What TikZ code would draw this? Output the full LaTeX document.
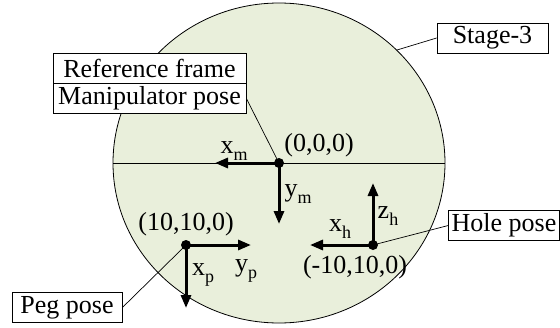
\documentclass[tikz,border=0pt]{standalone}
\usepackage{fontspec}
\setmainfont{Liberation Serif}
\newfontfamily\timesfont{Liberation Serif}
\usetikzlibrary{arrows.meta}
\newcommand\sbs[1]{\raisebox{-0.28em}{\fontsize{18}{18}\selectfont #1}}
\begin{document}
\begin{tikzpicture}[x=1pt,y=-1pt,
  every node/.style={font=\timesfont\fontsize{26}{30}\selectfont, inner sep=2pt},
  labelbox/.style={draw, line width=0.8pt, fill=white, minimum height=30pt, inner sep=3pt},
  axis/.style={line width=3pt, -{Triangle[length=13pt,width=10pt]}},
  callout/.style={line width=0.7pt},
  dotc/.style={fill=black}]
\useasboundingbox (0,0) rectangle (560,327);
\definecolor{stagegreen}{RGB}{233,239,219}
% stage
\draw[line width=0.8pt, fill=stagegreen] (279,163) ellipse [x radius=166pt, y radius=160pt];
\coordinate (L) at (113,163);
\coordinate (R) at (445,163);
\draw[line width=0.8pt] (L) -- (R);
\coordinate (S) at (397,50);
% frame points
\coordinate (M) at (279,163);
\coordinate (P) at (186,245);
\coordinate (H) at (373,245);
\coordinate (xm) at (215,163);
\coordinate (ym) at (279,224);
\coordinate (yp) at (251,245);
\coordinate (xp) at (186,308);
\coordinate (xh) at (310,245);
\coordinate (zh) at (373,183);
% label boxes
\node[labelbox, minimum width=193pt] (ref) at (149.5,68) {Reference frame};
\node[labelbox, minimum width=193pt] (man) at (149.5,98.5) {Manipulator pose};
\node[labelbox, minimum width=111pt] (stage) at (492.5,38) {Stage-3};
\node[labelbox, minimum width=108pt] (hole) at (504,225.5) {Hole pose};
\node[labelbox, minimum width=110pt] (peg) at (67,307.5) {Peg pose};
% callouts
\draw[callout] (man.east) -- (M);
\draw[callout] (stage.west) -- (S);
\draw[callout] (hole.west) -- (H);
\draw[callout] (peg.east) -- (P);
% axes
\draw[axis] (M) -- (xm);
\draw[axis] (M) -- (ym);
\draw[axis] (P) -- (yp);
\draw[axis] (P) -- (xp);
\draw[axis] (H) -- (xh);
\draw[axis] (H) -- (zh);
\fill[dotc] (M) circle[radius=5pt];
\fill[dotc] (P) circle[radius=5pt];
\fill[dotc] (H) circle[radius=5pt];
% texts
\node (c0) at (319,145) {(0,0,0)};
\node (lxm) at (234,151) {x\sbs{m}};
\node (lym) at (298,194) {y\sbs{m}};
\node (c1) at (186,224) {(10,10,0)};
\node (lyp) at (246,271) {y\sbs{p}};
\node (lxp) at (203,275) {x\sbs{p}};
\node (lxh) at (340,229) {x\sbs{h}};
\node (lzh) at (388,216) {z\sbs{h}};
\node (c2) at (355,267) {(-10,10,0)};
\end{tikzpicture}
\end{document}
